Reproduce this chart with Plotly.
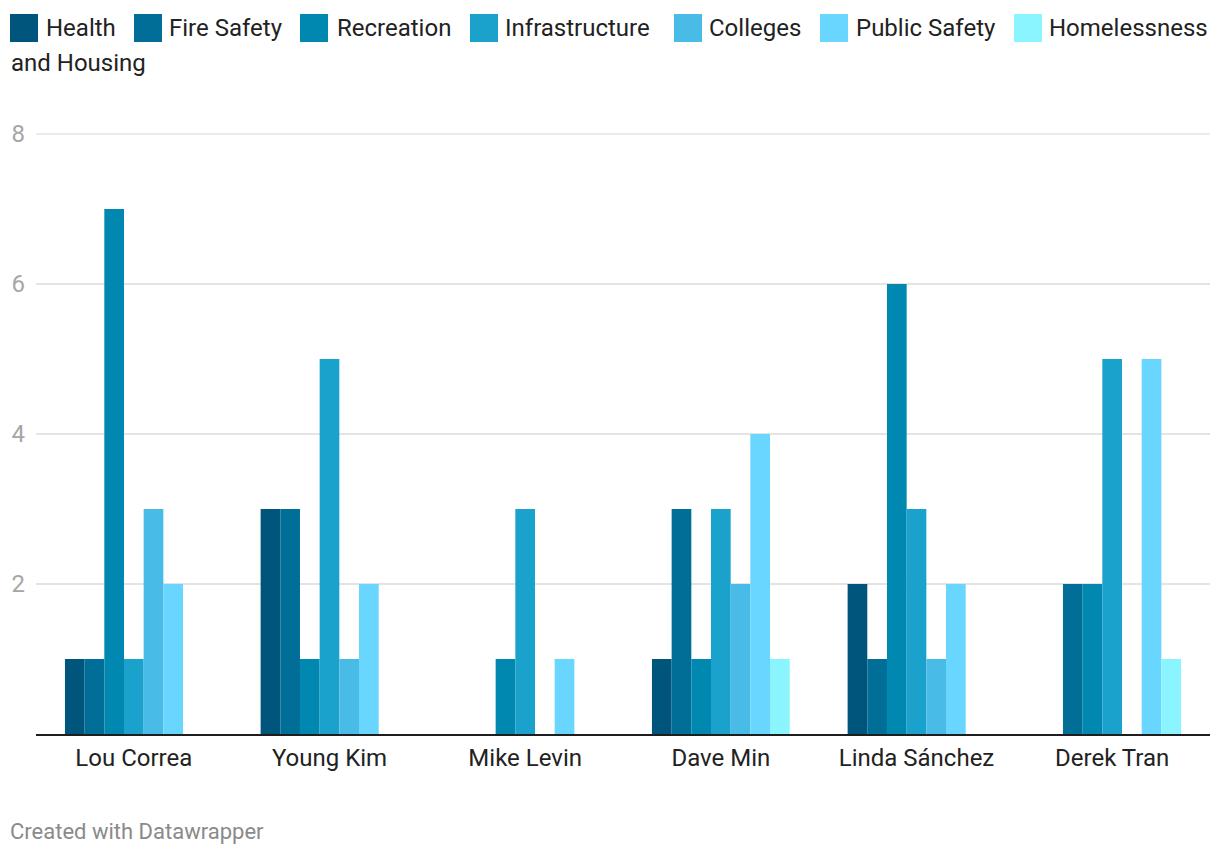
import plotly.graph_objects as go

# ---- data ----
candidates = ["Lou Correa", "Young Kim", "Mike Levin", "Dave Min", "Linda Sánchez", "Derek Tran"]
series_names = ["Health", "Fire Safety", "Recreation", "Infrastructure", "Colleges",
                "Public Safety", "Homelessness and Housing"]
health = [1, 3, 0, 1, 2, 0]
fire_safety = [1, 3, 0, 3, 1, 2]
recreation = [7, 1, 1, 1, 6, 2]
infrastructure = [1, 5, 3, 3, 3, 5]
colleges = [3, 1, 0, 2, 1, 0]
public_safety = [2, 2, 1, 4, 2, 5]
homelessness = [0, 0, 0, 1, 0, 1]
y_ticks = [2, 4, 6, 8]

series_values = [health, fire_safety, recreation, infrastructure, colleges,
                 public_safety, homelessness]
colors = ["#00557c", "#006e96", "#0088b1", "#1aa2cc", "#48bbe6", "#68d6fe", "#8af4ff"]

# ---- layout geometry (pixels; page has an 8px body margin) ----
W, H = 1212, 848
L, R, T, B = 28, 10, 126, 122
PX0, PY1 = 36, 734          # plot-area left / bottom in page pixels
PW, PH = 1174, 600
GRID = "#e4e4e4"
Y_MAX = y_ticks[-1]


def px(x):
    return (x - PX0) / PW


def py(y):
    return (PY1 - y) / PH


fig = go.Figure()
for name, vals, col in zip(series_names, series_values, colors):
    fig.add_trace(go.Bar(x=candidates, y=vals, name=name,
                         marker=dict(color=col, line=dict(width=0)),
                         showlegend=False))

# ---- manual legend (wrapping like the original) ----
legend_labels = ["Health", "Fire Safety", "Recreation", "Infrastructure", "Colleges",
                 "Public Safety", "Homelessness"]
legend_sq_x = [10, 134, 300, 470, 674, 820, 1014]
legend_txt_x = [44, 167, 335, 503, 707, 854, 1047]
shapes = []
annotations = []
for lab, sx, tx, col in zip(legend_labels, legend_sq_x, legend_txt_x, colors):
    shapes.append(dict(type="rect", xref="paper", yref="paper",
                       x0=px(sx), x1=px(sx + 28), y0=py(42), y1=py(14),
                       fillcolor=col, line=dict(width=0)))
    annotations.append(dict(text=lab, xref="paper", yref="paper", x=px(tx), y=py(28),
                            xanchor="left", yanchor="middle", showarrow=False,
                            font=dict(family="Roboto", size=24, color="#222222")))
annotations.append(dict(text="and Housing", xref="paper", yref="paper", x=px(9), y=py(63),
                        xanchor="left", yanchor="middle", showarrow=False,
                        font=dict(family="Roboto", size=24, color="#222222")))
annotations.append(dict(text="Created with Datawrapper", xref="paper", yref="paper",
                        x=px(8), y=py(831), xanchor="left", yanchor="middle",
                        showarrow=False,
                        font=dict(family="Roboto", size=22, color="#8a8a8a")))

# top gridline (plotly skips the gridline lying on the plot edge); the axis range
# ends at the last tick, so it sits at the top of the plot area
shapes.append(dict(type="line", xref="paper", yref="paper", x0=0, x1=1,
                   y0=1, y1=1, layer="below",
                   line=dict(color=GRID, width=1.5)))

fig.update_layout(
    width=W, height=H,
    margin=dict(l=L, r=R, t=T, b=B, autoexpand=False),
    paper_bgcolor="white", plot_bgcolor="white",
    barmode="group", bargap=0.296, bargroupgap=0,
    font=dict(family="Roboto", color="#222222"),
    shapes=shapes, annotations=annotations,
    xaxis=dict(showgrid=False, showline=True, linecolor="#1e1e1e", linewidth=2,
               ticks="", tickfont=dict(size=24, color="#222222"),
               ticklabelstandoff=1, automargin=False, fixedrange=True),
    yaxis=dict(range=[0, Y_MAX], tickvals=y_ticks, showgrid=True, gridcolor=GRID,
               gridwidth=1.5, zeroline=False, showline=False, ticks="",
               tickfont=dict(size=24, color="#a6a6a6"), ticklabelstandoff=10,
               automargin=False, fixedrange=True),
)

fig.write_html("out.html", config={"displayModeBar": False})
